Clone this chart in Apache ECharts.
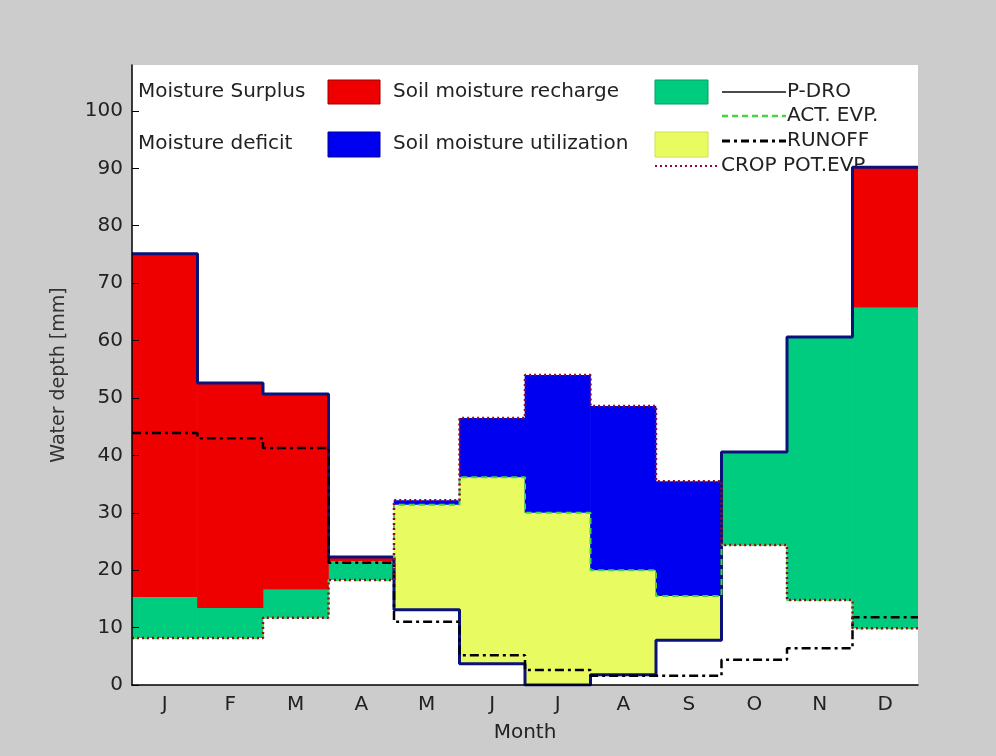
<!DOCTYPE html>
<html>
<head>
<meta charset="utf-8">
<script src="https://cdn.jsdelivr.net/npm/echarts@6/dist/echarts.min.js"></script>
<style>
  html, body { margin: 0; padding: 0; background: #cccccc; }
  #chart { width: 996px; height: 756px; }
</style>
</head>
<body>
<div id="chart"></div>
<script>
// Monthly water balance (mm)
const months = ['J', 'F', 'M', 'A', 'M', 'J', 'J', 'A', 'S', 'O', 'N', 'D'];
const pDro = [75.1, 52.6, 50.7, 22.3, 13.1, 3.7, 0.0, 1.8, 7.8, 40.6, 60.6, 90.2];
const actEvp = [8.2, 8.2, 11.7, 18.3, 31.4, 36.2, 30.0, 20.0, 15.5, 24.4, 14.8, 9.9];
const cropPotEvp = [8.2, 8.2, 11.7, 18.3, 32.2, 46.5, 54.0, 48.6, 35.5, 24.4, 14.8, 9.9];
const recharge = [7.1, 5.2, 4.9, 3.2, 0, 0, 0, 0, 0, 16.2, 45.8, 55.8];
const runoff = [43.9, 43.0, 41.3, 21.3, 11.0, 5.2, 2.6, 1.6, 1.6, 4.4, 6.4, 11.8];
const yTicks = [0, 10, 20, 30, 40, 50, 60, 70, 80, 90, 100];

// Band layers of each monthly column, stacked from the lower of P-DRO / AET
const wet = pDro.map((p, i) => p >= actEvp[i]);
const baseLayer = pDro.map((p, i) => wet[i] ? actEvp[i] : p);
const utilLayer = pDro.map((p, i) => wet[i] ? 0 : +(actEvp[i] - p).toFixed(2));
const rechargeLayer = recharge.slice();
const deficitLayer = cropPotEvp.map((e, i) => +(e - actEvp[i]).toFixed(2));
const surplusLayer = pDro.map((p, i) => wet[i] ? +(p - actEvp[i] - recharge[i]).toFixed(2) : 0);

// Step outline: one level per month, from month start to month end
const steps = arr => arr.map((v, i) => [i + 0.5, v]).concat([[arr.length + 0.5, arr[arr.length - 1]]]);

const FONT = 'DejaVu Sans';
const C = {
  red: '#ee0000', green: '#00cc80', blue: '#0000f0', yellow: '#e8fb60',
  navy: '#0a127a', act: '#44d444', run: '#000000', pot: '#8c0a30'
};

const band = (name, data, color) => ({
  name, type: 'bar', stack: 'balance', xAxisIndex: 0, data,
  barWidth: '101%', barGap: '-100%',
  itemStyle: { color },
  emphasis: { disabled: true }, silent: true, z: 2
});
const stepLine = (name, arr, style, z) => ({
  name, type: 'line', xAxisIndex: 1, data: steps(arr), step: 'end',
  symbol: 'none', lineStyle: style, silent: true, z
});

const chart = echarts.init(document.getElementById('chart'));
chart.setOption({
  backgroundColor: '#cccccc',
  animation: false,
  grid: { left: 132, right: 78, top: 65, bottom: 71, show: true, backgroundColor: '#ffffff', borderWidth: 0 },
  xAxis: [
    {
      type: 'category', data: months, boundaryGap: true,
      axisLine: { lineStyle: { color: '#000', width: 1.5 } },
      axisTick: { inside: true, alignWithLabel: true, length: 7, lineStyle: { color: '#000' } },
      axisLabel: { color: '#222', fontFamily: FONT, fontSize: 20, margin: 10 },
      name: 'Month', nameLocation: 'middle', nameGap: 38,
      nameTextStyle: { color: '#222', fontFamily: FONT, fontSize: 20 },
      z: 10
    },
    { type: 'value', min: 0.5, max: 12.5, show: false }
  ],
  yAxis: {
    type: 'value', min: 0, max: 108, interval: 10,
    axisLine: { show: true, lineStyle: { color: '#000', width: 1.5 } },
    axisTick: { show: true, inside: true, length: 7, customValues: yTicks, lineStyle: { color: '#000' } },
    axisLabel: { customValues: yTicks, color: '#222', fontFamily: FONT, fontSize: 20, margin: 9 },
    splitLine: { show: false },
    name: 'Water depth [mm]', nameLocation: 'middle', nameGap: 63,
    nameTextStyle: { color: '#333', fontFamily: FONT, fontSize: 19 },
    z: 10
  },
  series: [
    band('base', baseLayer, 'transparent'),
    band('Soil moisture utilization', utilLayer, C.yellow),
    band('Soil moisture recharge', rechargeLayer, C.green),
    band('Moisture deficit', deficitLayer, C.blue),
    band('Moisture Surplus', surplusLayer, C.red),
    stepLine('P-DRO', pDro, { color: C.navy, width: 3 }, 4),
    stepLine('ACT. EVP.', actEvp, { color: C.act, width: 2, type: [6, 4] }, 5),
    stepLine('RUNOFF', runoff, { color: C.run, width: 2.5, type: [9, 4, 3, 4] }, 6),
    stepLine('CROP POT. EVP.', cropPotEvp, { color: C.pot, width: 2.5, type: [2, 3] }, 7)
  ],
  graphic: [
    { type: 'text', z: 1, style: { text: 'Moisture Surplus', x: 138, y: 92, verticalAlign: 'middle', font: '20px "DejaVu Sans"', fill: '#222' } },
    { type: 'text', z: 1, style: { text: 'Moisture deficit', x: 138, y: 144, verticalAlign: 'middle', font: '20px "DejaVu Sans"', fill: '#222' } },
    { type: 'rect', z: 1, shape: { x: 328, y: 80, width: 52, height: 24 }, style: { fill: C.red, stroke: '#a00000', lineWidth: 1 } },
    { type: 'rect', z: 1, shape: { x: 328, y: 132, width: 52, height: 25 }, style: { fill: C.blue, stroke: '#000090', lineWidth: 1 } },
    { type: 'text', z: 1, style: { text: 'Soil moisture recharge', x: 393, y: 92, verticalAlign: 'middle', font: '20px "DejaVu Sans"', fill: '#222' } },
    { type: 'text', z: 1, style: { text: 'Soil moisture utilization', x: 393, y: 144, verticalAlign: 'middle', font: '20px "DejaVu Sans"', fill: '#222' } },
    { type: 'rect', z: 1, shape: { x: 655, y: 80, width: 53, height: 24 }, style: { fill: C.green, stroke: '#00a060', lineWidth: 1 } },
    { type: 'rect', z: 1, shape: { x: 655, y: 132, width: 53, height: 25 }, style: { fill: C.yellow, stroke: '#d0e050', lineWidth: 1 } },
    { type: 'line', z: 1, shape: { x1: 722, y1: 92, x2: 786, y2: 92 }, style: { stroke: '#111', lineWidth: 1.5 } },
    { type: 'text', z: 1, style: { text: 'P-DRO', x: 787, y: 92, verticalAlign: 'middle', font: '20px "DejaVu Sans"', fill: '#222' } },
    { type: 'line', z: 1, shape: { x1: 722, y1: 116, x2: 786, y2: 116 }, style: { stroke: C.act, lineWidth: 2.5, lineDash: [6, 4] } },
    { type: 'text', z: 1, style: { text: 'ACT. EVP.', x: 787, y: 116, verticalAlign: 'middle', font: '20px "DejaVu Sans"', fill: '#222' } },
    { type: 'line', z: 1, shape: { x1: 722, y1: 141, x2: 786, y2: 141 }, style: { stroke: '#000', lineWidth: 3, lineDash: [8, 4, 3, 4] } },
    { type: 'text', z: 1, style: { text: 'RUNOFF', x: 787, y: 141, verticalAlign: 'middle', font: '20px "DejaVu Sans"', fill: '#222' } },
    { type: 'line', z: 1, shape: { x1: 655, y1: 166, x2: 720, y2: 166 }, style: { stroke: C.pot, lineWidth: 2, lineDash: [2, 3] } },
    { type: 'text', z: 1, style: { text: 'CROP POT.EVP.', x: 721, y: 166, verticalAlign: 'middle', font: '20px "DejaVu Sans"', fill: '#222' } }
  ]
});
</script>
</body>
</html>
